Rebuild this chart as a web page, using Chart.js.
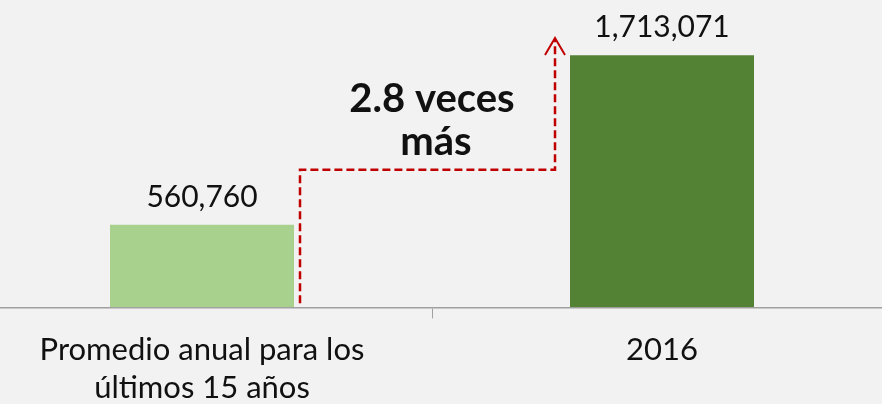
<!DOCTYPE html>
<html>
<head>
<meta charset="utf-8">
<script src="https://cdn.jsdelivr.net/npm/chart.js@4/dist/chart.umd.min.js"></script>
<style>
  html, body { margin: 0; padding: 0; background: #f2f2f2; overflow: hidden; }
  #wrap { position: absolute; left: -28px; top: 0; width: 920px; height: 420px; }
</style>
</head>
<body>
<div id="wrap"><canvas id="chart"></canvas></div>
<script>
const categories = [["Promedio anual para los", "últimos 15 años"], "2016"];
const values = [560760, 1713071];
const barColors = ["#a9d18e", "#548235"];

// annotation: step arrow between bars
const arrowStepValue = 935000;
const arrowTopValue = 1830000;
const arrowText = ["2.8 veces", "más"];

const FONT = "'Century Gothic', 'URW Gothic', Lato, sans-serif";

const valueLabels = {
    id: "valueLabels",
    afterDatasetsDraw(chart) {
        const ctx = chart.ctx;
        const meta = chart.getDatasetMeta(0);
        ctx.save();
        ctx.fillStyle = "#111";
        ctx.font = "30px " + FONT;
        ctx.textAlign = "center";
        ctx.textBaseline = "alphabetic";
        meta.data.forEach((bar, i) => {
            ctx.fillText(values[i].toLocaleString("en-US"), bar.x, bar.y - 18);
        });
        ctx.restore();
    }
};

const stepArrow = {
    id: "stepArrow",
    afterDatasetsDraw(chart) {
        const ctx = chart.ctx;
        const meta = chart.getDatasetMeta(0);
        const y = chart.scales.y;
        const b0 = meta.data[0], b1 = meta.data[1];
        const x0 = b0.x + b0.width / 2 + 6;
        const x1 = b1.x - b1.width / 2 - 15;
        const yBase = y.getPixelForValue(0) - 4;
        const yStep = y.getPixelForValue(arrowStepValue);
        const yTop = y.getPixelForValue(arrowTopValue);
        ctx.save();
        ctx.strokeStyle = "#c00000";
        ctx.lineWidth = 2.5;
        ctx.setLineDash([8, 4]);
        ctx.beginPath();
        ctx.moveTo(x0, yBase);
        ctx.lineTo(x0, yStep);
        ctx.lineTo(x1, yStep);
        ctx.lineTo(x1, yTop + 2);
        ctx.stroke();
        ctx.setLineDash([]);
        ctx.lineWidth = 2;
        ctx.beginPath();
        ctx.moveTo(x1 - 10, yTop + 17);
        ctx.lineTo(x1, yTop);
        ctx.lineTo(x1 + 10, yTop + 17);
        ctx.stroke();

        const xs = chart.scales.x;
        const mid = (xs.getPixelForValue(0) + xs.getPixelForValue(1)) / 2;
        ctx.fillStyle = "#111";
        ctx.font = "bold 40px " + FONT;
        ctx.textAlign = "center";
        ctx.fillText(arrowText[0], mid, yStep - 58);
        ctx.fillText(arrowText[1], mid + 4, yStep - 15);
        ctx.restore();
    }
};

new Chart(document.getElementById("chart"), {
    type: "bar",
    data: {
        labels: categories,
        datasets: [{
            data: values,
            backgroundColor: barColors,
            barPercentage: 1,
            categoryPercentage: 0.4
        }]
    },
    options: {
        responsive: true,
        maintainAspectRatio: false,
        animation: false,
        layout: { padding: { top: 13, left: 0, right: 0, bottom: 0 } },
        plugins: { legend: { display: false }, tooltip: { enabled: false } },
        scales: {
            x: {
                grid: {
                    offset: true,
                    drawOnChartArea: false,
                    drawTicks: true,
                    tickLength: 11,
                    color: "#a0a0a0"
                },
                border: { color: "#a0a0a0", width: 1.5 },
                ticks: {
                    color: "#111",
                    padding: 13,
                    maxRotation: 0,
                    autoSkip: false,
                    font: { family: FONT, size: 31, lineHeight: 1.22 }
                }
            },
            y: {
                display: false,
                min: 0,
                max: 2000000
            }
        }
    },
    plugins: [valueLabels, stepArrow]
});
</script>
</body>
</html>
